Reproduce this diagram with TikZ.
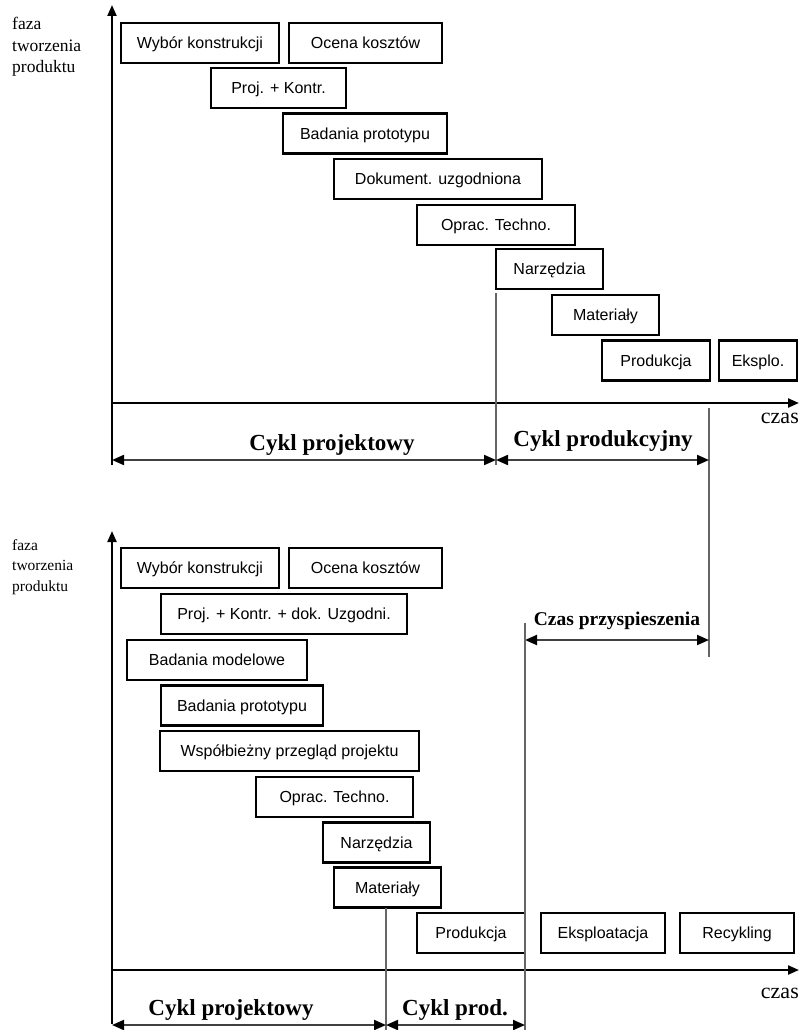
\documentclass[tikz,border=0pt]{standalone}
\usepackage{fontspec}
\setmainfont{Liberation Serif}
\setsansfont{Liberation Sans}
\usetikzlibrary{arrows.meta}
\begin{document}
\begin{tikzpicture}[x=1pt,y=-1pt,
  phase/.style={draw=black, line width=2.4pt, minimum height=40pt, inner sep=0pt,
    text height=11.5pt, text depth=0pt,
    font=\sffamily\fontsize{16}{19}\selectfont},
  axisline/.style={draw=black, line width=2.2pt, -{Triangle[length=11pt,width=9pt]}},
  dimline/.style={draw=black!75, line width=2pt,
    {Triangle[length=12pt,width=10pt,fill=black,color=black]}-{Triangle[length=12pt,width=10pt,fill=black,color=black]}},
  divider/.style={draw=black!60, line width=1.6pt},
  cyc/.style={font=\bfseries\fontsize{23}{27}\selectfont, inner sep=0pt},
  acc/.style={font=\bfseries\fontsize{19.5}{23}\selectfont, inner sep=0pt},
  timelab/.style={font=\fontsize{22}{26}\selectfont, inner sep=0pt, anchor=east},
]
\useasboundingbox (0,0) rectangle (799,1030);

% ================= TOP DIAGRAM =================
\node[anchor=west, align=left, inner sep=0pt,
      font=\fontsize{17.5}{21.5}\selectfont] (ylabA) at (12,47) {faza\\tworzenia\\produktu};

\coordinate (yA0) at (112,465);
\coordinate (yA1) at (112,5);
\coordinate (xA0) at (112,403);
\coordinate (xA1) at (799,403);
\draw[axisline] (yA0) -- (yA1);
\draw[axisline] (xA0) -- (xA1);
\node[timelab] (czasA) at (799,418) {czas};

\node[phase, minimum width=158pt] (wkA) at (200,43) {Wybór konstrukcji};
\node[phase, minimum width=153pt] (okA) at (365.5,43) {Ocena kosztów};
\node[phase, minimum width=135pt] (pkA) at (278.5,88) {Proj. + Kontr.};
\node[phase, minimum width=164pt] (bpA) at (365,133.5) {Badania prototypu};
\node[phase, minimum width=208pt] (duA) at (438,179) {Dokument. uzgodniona};
\node[phase, minimum width=158pt] (otA) at (496,225) {Oprac. Techno.};
\node[phase, minimum width=107pt] (naA) at (549.5,269) {Narzędzia};
\node[phase, minimum width=107pt] (maA) at (605.5,315) {Materiały};
\node[phase, minimum width=108pt] (prA) at (656,360.5) {Produkcja};
\node[phase, minimum width=78pt]  (ekA) at (758,360.5) {Eksplo.};

% dividers and dimension lines (top)
\coordinate (dA0) at (496,293);
\coordinate (dA1) at (496,465);
\coordinate (eA0) at (709,408);
\coordinate (eA1) at (709,657);
\draw[divider] (dA0) -- (dA1);
\draw[divider] (eA0) -- (eA1);

\coordinate (mA0) at (112,460);
\coordinate (mA1) at (496,460);
\coordinate (mA2) at (709,460);
\draw[dimline] (mA0) -- (mA1);
\draw[dimline] (mA1) -- (mA2);
\node[cyc] (cpA) at (332,445) {Cykl projektowy};
\node[cyc] (cprA) at (603,441) {Cykl produkcyjny};

% acceleration
\coordinate (gB0) at (525,623);
\coordinate (aB0) at (525,640);
\coordinate (aB1) at (709,640);
\draw[dimline] (aB0) -- (aB1);
\node[acc] (accB) at (617,621) {Czas przyspieszenia};

% ================= BOTTOM DIAGRAM =================
\node[anchor=west, align=left, inner sep=0pt,
      font=\fontsize{15.5}{20.5}\selectfont] (ylabB) at (12,567) {faza\\tworzenia\\produktu};

\coordinate (yB0) at (112,1024);
\coordinate (yB1) at (112,531);
\coordinate (xB0) at (112,970);
\coordinate (xB1) at (799,970);
\draw[axisline] (yB0) -- (yB1);
\draw[axisline] (xB0) -- (xB1);
\node[timelab] (czasB) at (799,993) {czas};

\node[phase, minimum width=158pt] (wkB) at (200,568) {Wybór konstrukcji};
\node[phase, minimum width=153pt] (okB) at (365.5,568) {Ocena kosztów};
\node[phase, minimum width=246pt] (pkB) at (284,614) {Proj. + Kontr. + dok. Uzgodni.};
\node[phase, minimum width=180pt] (bmB) at (217,660) {Badania modelowe};
\node[phase, minimum width=162pt] (bpB) at (242,705.5) {Badania prototypu};
\node[phase, minimum width=259pt] (wpB) at (289.5,751) {Współbieżny przegląd projektu};
\node[phase, minimum width=157pt] (otB) at (334.5,797) {Oprac. Techno.};
\node[phase, minimum width=107pt] (naB) at (376.5,842.5) {Narzędzia};
\node[phase, minimum width=107pt] (maB) at (387.5,887.5) {Materiały};
\node[phase, minimum width=108pt] (prB) at (471,933) {Produkcja};
\node[phase, minimum width=124pt] (epB) at (603,933) {Eksploatacja};
\node[phase, minimum width=114pt] (reB) at (737,933) {Recykling};

\coordinate (dB0) at (386,908);
\coordinate (dB1) at (386,1030);
\coordinate (gB1) at (525,1030);
\draw[divider] (dB0) -- (dB1);
\draw[divider] (gB0) -- (gB1);

\coordinate (mB0) at (112,1025);
\coordinate (mB1) at (386,1025);
\coordinate (mB2) at (525,1025);
\draw[dimline] (mB0) -- (mB1);
\draw[dimline] (mB1) -- (mB2);
\node[cyc] (cpB) at (231,1010) {Cykl projektowy};
\node[cyc] (cprB) at (455,1010) {Cykl prod.};
\end{tikzpicture}
\end{document}
